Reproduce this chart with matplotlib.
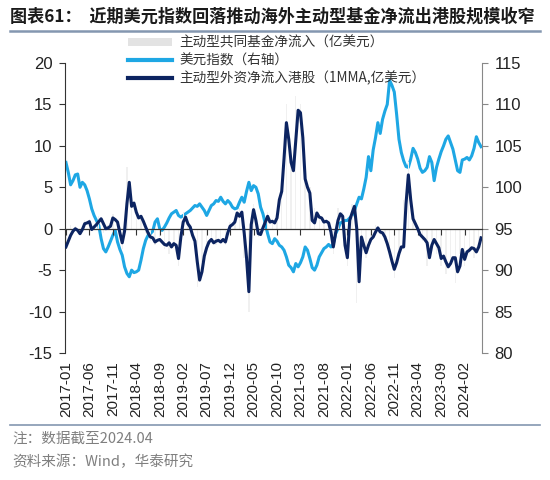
import numpy as np
import matplotlib.pyplot as plt
from matplotlib.patches import Patch
from matplotlib.lines import Line2D

plt.rcParams['font.family'] = ['Noto Sans CJK SC', 'DejaVu Sans']
plt.rcParams['axes.unicode_minus'] = False

# x labels, every 5 months starting 2017-01
tick_labels = ['2017-01', '2017-06', '2017-11', '2018-04', '2018-09', '2019-02',
               '2019-07', '2019-12', '2020-05', '2020-10', '2021-03', '2021-08',
               '2022-01', '2022-06', '2022-11', '2023-04', '2023-09', '2024-02']

# active foreign fund net inflow to HK stocks, 1MMA (100m USD), half-month points
foreign_flow = [
    -2.2, -1.5, -0.8, -0.3, 0.0, -0.2, -0.6, -0.1, 0.6, 0.7,
    0.85, -0.1, 0.2, 0.5, 0.85, 1.2, 0.6, 0.0, 0.1, 0.3,
    1.3, 1.1, 0.8, -0.5, -1.7, -0.3, 3.0, 5.6, 2.7, 3.1,
    2.0, 1.3, 1.5, 0.9, 0.2, -0.5, -1.0, -1.1, -1.6, -1.4,
    -1.3, -1.6, -1.9, -2.0, -1.7, -2.2, -1.8, -2.0, -3.6, -1.0,
    0.8, 1.4, 0.6, 0.2, -0.8, -1.5, -4.0, -6.2, -5.2, -3.3,
    -2.3, -1.6, -1.3, -1.7, -1.5, -1.4, -1.6, -1.3, -1.6, -0.5,
    0.3, 0.5, 0.8, 1.9, 1.5, 2.0, -0.5, -3.5, -7.6, 0.5,
    2.3, 1.0, -0.6, -0.7, 0.1, 0.8, 1.5, 0.8, 0.9, 0.7,
    1.3, 3.5, 4.5, 8.5, 12.8, 10.8, 8.0, 7.0, 10.7, 14.3,
    14.0, 11.0, 6.0, 5.0, 4.3, 1.0, 0.7, 1.9, 1.4, 1.3,
    0.8, 0.9, 0.7, -0.4, -2.2, -0.5, 1.0, 1.8, 1.5, -2.0,
    -3.5, 1.0, 1.9, 2.7, 0.0, -6.4, -1.0, -2.0, -2.9, -2.0,
    -1.3, -1.0, -0.4, 0.1, -0.4, -0.5, -1.0, -1.8, -2.8, -3.9,
    -4.9, -4.1, -3.0, -2.2, -2.2, 3.0, 6.5, 3.5, 1.2, 0.6,
    0.0, -0.7, -1.0, -1.3, -1.7, -3.5, -2.0, -1.3, -1.8, -2.3,
    -3.6, -3.3, -4.0, -4.6, -4.2, -3.5, -3.5, -5.2, -4.5, -2.5,
    -3.7, -2.8, -2.6, -2.3, -2.4, -2.8, -2.2, -1.1,
]

# US dollar index (right axis), half-month points
dxy = [
    103.0, 101.8, 100.3, 100.8, 101.5, 101.6, 100.0, 100.6, 100.3, 99.6,
    98.6, 97.4, 96.6, 96.0, 95.4, 93.8, 92.6, 92.2, 92.8, 93.5,
    94.2, 94.8, 93.4, 92.5, 91.8, 90.4, 89.6, 89.2, 90.0, 89.7,
    89.8, 90.0, 91.2, 92.6, 93.6, 94.2, 94.4, 94.7, 95.8, 96.2,
    95.0, 94.8, 95.2, 95.7, 96.3, 96.8, 97.0, 97.2, 96.6, 96.4,
    96.6, 96.8, 97.0, 97.2, 97.5, 97.8, 97.7, 98.0, 97.6, 97.2,
    96.6, 97.2, 97.8, 98.0, 98.4, 98.3, 98.8, 98.3, 98.0, 98.4,
    98.1, 97.6, 97.4, 97.5, 98.2, 98.8, 98.2, 99.5, 100.6, 99.6,
    100.2, 100.0, 99.2, 97.6, 96.8, 95.6, 94.4, 93.4, 93.2, 93.8,
    93.5, 93.0, 92.8, 92.4, 91.6, 90.6, 90.3, 89.8, 90.8, 90.4,
    90.9, 91.6, 92.8, 92.4, 91.4, 90.3, 90.0, 90.6, 91.6, 92.1,
    92.6, 92.8, 93.1, 92.8, 93.2, 94.4, 95.0, 95.7, 95.8, 96.0,
    96.0, 96.3, 96.6, 97.2, 98.0, 98.8, 98.6, 99.8, 101.2, 103.7,
    102.0, 104.5, 106.0, 107.8, 106.5, 108.2, 109.2, 110.0, 112.9, 112.3,
    111.5, 108.8, 105.8, 104.2, 103.2, 102.5, 102.4, 103.4, 104.7, 104.2,
    103.4, 102.3, 101.8, 102.0, 102.4, 103.7, 103.0, 100.8, 102.4, 103.4,
    104.3, 105.0, 105.8, 106.2, 105.4, 104.6, 103.3, 102.0, 101.8, 103.3,
    103.4, 103.6, 103.3, 103.8, 104.7, 106.1, 105.4, 104.9,
]

# active mutual fund net inflow (100m USD), monthly
fund_flow = [
    -2.0, 0.5, 0.3, -0.8, 1.0, 1.2, 0.3, 1.5, -0.5, 0.5,
    1.8, 1.0, -2.5, 7.5, 3.5, 2.0, 1.2, -0.5, -1.5, -2.0,
    -1.0, -2.5, -3.0, -2.0, -4.5, 2.0, 0.5, -1.5, -7.0, -4.0,
    -2.0, -1.5, -2.0, -1.2, -2.0, 0.8, 1.0, 2.5, -3.5, -10.0,
    3.0, -1.0, 0.5, 2.0, 1.0, 1.5, 6.0, 15.0, 8.0, 16.0,
    15.0, 7.0, 5.0, 2.5, 1.5, 1.0, 0.5, -3.0, 2.5, 2.0,
    -4.5, 3.0, -9.0, -3.5, -3.5, -1.5, 0.5, -0.8, -1.5, -3.5,
    -6.0, -3.0, 3.5, 8.0, 1.5, -0.5, -1.5, -4.5, -2.0, -3.0,
    -4.5, -5.5, -4.0, -6.5, -3.0, -4.5, -3.0, -3.5, -1.5,
]

t_half = np.arange(len(foreign_flow)) / 2
t_month = np.arange(len(fund_flow))
label_pos = np.arange(len(tick_labels)) * 5

navy = '#0c2461'
light = '#1ea7e4'
num_font = 'Liberation Sans'

fig = plt.figure(figsize=(5.5, 4.8), dpi=100)
ax = fig.add_axes([65 / 550, 1 - 353 / 480, 417 / 550, 290 / 480])
ax2 = ax.twinx()

ax.bar(t_month, fund_flow, width=0.3, color='#f0f0f0', zorder=1)
ax.plot(t_half, foreign_flow, color=navy, lw=2.2, zorder=3)
ax2.plot(t_half, dxy, color=light, lw=2.2)

ax.set_zorder(ax2.get_zorder() + 1)
ax.patch.set_visible(False)

ax.set_xlim(-0.2, 88.7)
ax.set_ylim(-15, 20)
ax2.set_ylim(80, 115)

ax.set_yticks(range(-15, 21, 5))
ax2.set_yticks(range(80, 116, 5))
for lab in ax.get_yticklabels() + ax2.get_yticklabels():
    lab.set_fontfamily(num_font)
    lab.set_fontsize(12)
    lab.set_color('#222222')

ax.spines['top'].set_visible(False)
ax.spines['right'].set_visible(False)
ax.spines['bottom'].set_position(('data', 0))
ax.spines['bottom'].set_color('#333333')
ax.spines['bottom'].set_linewidth(0.9)
ax.spines['left'].set_color('#333333')
for s in ['top', 'left', 'bottom']:
    ax2.spines[s].set_visible(False)
ax2.spines['right'].set_color('#888888')

ax.set_xticks(label_pos)
ax.tick_params(axis='x', direction='out', length=4, color='#333333', labelbottom=False)
ax.tick_params(axis='y', direction='out', length=4, color='#333333', pad=5)
ax2.tick_params(axis='y', direction='out', length=4, color='#888888', pad=5)

sec = ax.secondary_xaxis(0.0)
sec.set_xticks(label_pos, labels=tick_labels, rotation=90)
sec.tick_params(length=0, pad=6)
sec.spines['bottom'].set_visible(False)
for lab in sec.get_xticklabels():
    lab.set_fontfamily(num_font)
    lab.set_fontsize(11)
    lab.set_color('#222222')

handles = [Patch(facecolor='#e3e3e3', edgecolor='none'),
           Line2D([], [], color=light, lw=3),
           Line2D([], [], color=navy, lw=3)]
labels = ['主动型共同基金净流入（亿美元）', '美元指数（右轴）', '主动型外资净流入港股（1MMA,亿美元）']
fig.legend(handles, labels, loc='upper left', bbox_to_anchor=(128 / 550, 1 - 36 / 480),
           frameon=False, fontsize=9.8, handlelength=3.2, handleheight=0.5,
           handletextpad=0.6, labelspacing=0.25, borderaxespad=0, borderpad=0,
           labelcolor='#333333')

fig.text(10 / 550, 1 - 17 / 480, '图表61：  近期美元指数回落推动海外主动型基金净流出港股规模收窄',
         fontsize=12.3, fontweight='bold', color='#1a1a1a', va='center', ha='left')
fig.add_artist(Line2D([10 / 550, 540 / 550], [1 - 31 / 480, 1 - 31 / 480],
                      color='#8497b0', lw=1.8, transform=fig.transFigure))
fig.add_artist(Line2D([10 / 550, 540 / 550], [1 - 425 / 480, 1 - 425 / 480],
                      color='#8497b0', lw=1.2, transform=fig.transFigure))
fig.text(12 / 550, 1 - 439 / 480, '注：数据截至2024.04', fontsize=10.5, color='#7f7f7f', va='center')
fig.text(12 / 550, 1 - 462 / 480, '资料来源：Wind，华泰研究', fontsize=10.5, color='#7f7f7f', va='center')

fig.savefig('out.png', dpi=100)
